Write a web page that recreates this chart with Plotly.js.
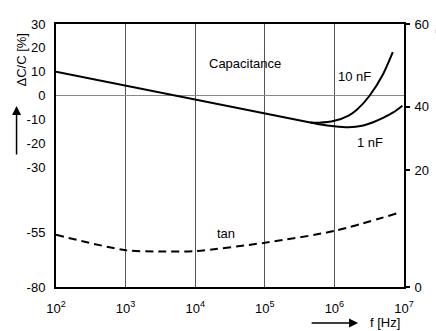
<!DOCTYPE html>
<html><head><meta charset="utf-8">
<script src="https://cdn.plot.ly/plotly-3.0.1.min.js"></script>
<style>html,body{margin:0;padding:0;background:#fff;}#c{width:436px;height:331px;}</style>
</head><body><div id="c"></div>
<script>
// Shared capacitance curve (Hz, %)
const fMain = [1e2, 1e3, 1e4, 1e5, 4.5e5];
const cMain = [10, 4.2, -1.4, -7.3, -11.2];
// 10 nF branch
const f10n = [4.5e5, 6e5, 1e6, 1.6e6, 2.1e6, 3.2e6, 5e6, 6.9e6];
const c10n = [-11.2, -11.3, -10.5, -8.3, -5.9, 0, 9, 18.2];
// 1 nF branch
const f1n = [4.5e5, 6e5, 1e6, 1.6e6, 2.5e6, 3.6e6, 5e6, 7e6, 9.5e6];
const c1n = [-11.2, -11.9, -12.8, -13.2, -12.6, -11.1, -9.3, -7.0, -4.2];
// tan delta (right axis)
const fTan = [1e2, 1e3, 3e3, 1e4, 1e5, 1e6, 7.9e6];
const vTan = [11.9, 8.4, 8.1, 8.2, 10.1, 12.8, 16.8];
// tick labels
const xTickVals = [1e2, 1e3, 1e4, 1e5, 1e6, 1e7];
const xTickText = ['10<sup>2</sup>','10<sup>3</sup>','10<sup>4</sup>','10<sup>5</sup>','10<sup>6</sup>','10<sup>7</sup>'];
const yTickVals = [30, 20, 10, 0, -10, -20, -30, -57, -80];
const yTickText = ['30','20','10','0','-10','-20','-30','-55','-80'];
const y2TickVals = [0, 26.7, 41.1, 60];
const y2TickText = ['0','20','40','60'];

const FAM = 'Liberation Sans, Arial, sans-serif';
const font = {family: FAM, size: 13, color: '#000'};
const line = {color: '#000', width: 2, shape: 'spline', smoothing: 0.8};

const traces = [
  {x: fMain, y: cMain, mode: 'lines', line: {color:'#000', width:2}, hoverinfo:'skip'},
  {x: f10n, y: c10n, mode: 'lines', line: line, hoverinfo:'skip'},
  {x: f1n, y: c1n, mode: 'lines', line: line, hoverinfo:'skip'},
  {x: fTan, y: vTan, yaxis: 'y2', mode: 'lines', line: {color:'#000', width:2, dash:'8px,5px', shape:'spline', smoothing:0.8}, hoverinfo:'skip'}
];

const L = 55.5, R = 32, T = 24, B = 44, W = 436, H = 331;
const pw = W - L - R, ph = H - T - B;
const px = v => (v - L) / pw;
const py = v => (H - B - v) / ph;

const layout = {
  width: W, height: H,
  margin: {l: L, r: R, t: T, b: B},
  paper_bgcolor: '#fff', plot_bgcolor: '#fff',
  showlegend: false,
  font: font,
  xaxis: {
    type: 'log', range: [2, 7],
    tickvals: xTickVals, ticktext: xTickText,
    showgrid: true, gridcolor: '#555', gridwidth: 1,
    showline: true, linecolor: '#000', linewidth: 2, mirror: true,
    ticks: '', zeroline: false, tickfont: font, ticklabelstandoff: 8
  },
  yaxis: {
    range: [-80, 30],
    tickvals: yTickVals, ticktext: yTickText,
    showgrid: false, zeroline: true, zerolinecolor: '#888', zerolinewidth: 1,
    showline: true, linecolor: '#000', linewidth: 2, mirror: true,
    ticks: '', tickfont: font, ticklabelstandoff: 6
  },
  yaxis2: {
    overlaying: 'y', side: 'right', range: [0, 60],
    tickvals: y2TickVals, ticktext: y2TickText,
    showgrid: false, zeroline: false,
    ticks: 'outside', ticklen: 5, tickwidth: 2, tickcolor: '#000',
    showline: false, tickfont: font, ticklabelstandoff: 2
  },
  annotations: [
    {xref: 'paper', yref: 'paper', x: px(245), y: py(64), text: 'Capacitance', showarrow: false, font: font, xanchor: 'center', yanchor: 'middle'},
    {xref: 'paper', yref: 'paper', x: px(354), y: py(77), text: '10 nF', showarrow: false, font: font, xanchor: 'center', yanchor: 'middle'},
    {xref: 'paper', yref: 'paper', x: px(370), y: py(142), text: '1 nF', showarrow: false, font: font, xanchor: 'center', yanchor: 'middle'},
    {xref: 'paper', yref: 'paper', x: px(226), y: py(233), text: 'tan', showarrow: false, font: font, xanchor: 'center', yanchor: 'middle'},
    {xref: 'paper', yref: 'paper', x: px(21), y: py(60), text: 'ΔC/C [%]', textangle: -90, showarrow: false, font: font, xanchor: 'center', yanchor: 'middle'},
    {xref: 'paper', yref: 'paper', x: px(385), y: py(322), text: 'f [Hz]', showarrow: false, font: font, xanchor: 'center', yanchor: 'middle'},
    {xref: 'paper', yref: 'paper', x: px(441), y: py(60), text: 'tan δ · 10<sup>-3</sup>', textangle: -90, showarrow: false, font: {family: FAM, size: 13, color: '#ccc'}, xanchor: 'center', yanchor: 'middle'},
    {xref: 'paper', yref: 'paper', x: px(16), y: py(106), ax: px(16), ay: py(156), axref: 'paper', ayref: 'paper',
     text: '', showarrow: true, arrowhead: 2, arrowsize: 1.2, arrowwidth: 1.5, arrowcolor: '#000'},
    {xref: 'paper', yref: 'paper', x: px(358), y: py(323), ax: px(310), ay: py(323), axref: 'paper', ayref: 'paper',
     text: '', showarrow: true, arrowhead: 2, arrowsize: 1.2, arrowwidth: 1.5, arrowcolor: '#000'}
  ]
};

Plotly.newPlot('c', traces, layout, {staticPlot: true, displayModeBar: false});
</script>
</body></html>
